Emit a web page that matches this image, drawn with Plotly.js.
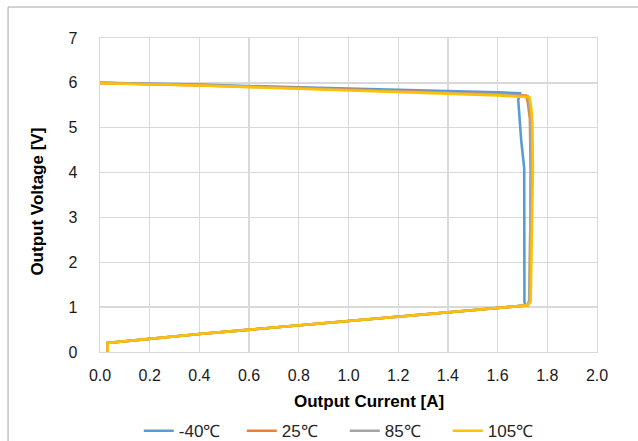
<!DOCTYPE html>
<html>
<head>
<meta charset="utf-8">
<script src="https://cdn.plot.ly/plotly-3.0.1.min.js"></script>
<style>
html,body{margin:0;padding:0;background:#fff;}
#chart{width:638px;height:441px;}
</style>
</head>
<body>
<div id="chart"></div>
<script>
// Series names
const seriesNames = ["-40℃", "25℃", "85℃", "105℃"];
const seriesColors = ["#5b9bd5", "#ed7d31", "#a5a5a5", "#ffc000"];

// -40 ℃
const curM40 = [0.00, 0.40, 0.80, 1.20, 1.60, 1.690, 1.683, 1.695, 1.707, 1.708, 1.712, 1.60, 1.20, 0.80, 0.40, 0.031, 0.031];
const volM40 = [6.00, 5.96, 5.90, 5.85, 5.79, 5.77, 5.62, 4.72, 4.10, 1.12, 1.04, 0.98, 0.79, 0.59, 0.40, 0.20, 0.00];

// 25 ℃
const cur25 = [0.00, 0.40, 0.80, 1.20, 1.60, 1.715, 1.722, 1.730, 1.733, 1.730, 1.722, 1.60, 1.20, 0.80, 0.40, 0.031, 0.031];
const vol25 = [6.00, 5.95, 5.89, 5.82, 5.75, 5.72, 5.55, 5.20, 4.00, 1.12, 1.04, 0.98, 0.79, 0.59, 0.40, 0.20, 0.00];

// 85 ℃
const cur85 = [0.00, 0.40, 0.80, 1.20, 1.60, 1.722, 1.728, 1.733, 1.735, 1.727, 1.720, 1.60, 1.20, 0.80, 0.40, 0.031, 0.031];
const vol85 = [6.00, 5.95, 5.88, 5.81, 5.74, 5.70, 5.50, 5.10, 4.00, 1.15, 1.04, 0.98, 0.79, 0.59, 0.40, 0.20, 0.00];

// 105 ℃
const cur105 = [0.00, 0.40, 0.80, 1.20, 1.60, 1.728, 1.735, 1.740, 1.742, 1.733, 1.722, 1.60, 1.20, 0.80, 0.40, 0.031, 0.031];
const vol105 = [5.99, 5.94, 5.87, 5.80, 5.72, 5.68, 5.45, 5.10, 4.00, 1.12, 1.04, 0.98, 0.79, 0.59, 0.40, 0.20, 0.00];

const xTickVals = [0, 0.2, 0.4, 0.6, 0.8, 1.0, 1.2, 1.4, 1.6, 1.8, 2.0];
const xTickText = ["0.0", "0.2", "0.4", "0.6", "0.8", "1.0", "1.2", "1.4", "1.6", "1.8", "2.0"];
const yTickVals = [0, 1, 2, 3, 4, 5, 6, 7];
const xTitle = "Output Current [A]";
const yTitle = "Output Voltage [V]";

const xs = [curM40, cur25, cur85, cur105];
const ys = [volM40, vol25, vol85, vol105];

const traces = seriesNames.map((n, i) => ({
  x: xs[i], y: ys[i], name: n, type: "scatter", mode: "lines",
  line: {color: seriesColors[i], width: 2.6}
}));

const fontFam = "Liberation Sans, Arial, sans-serif";
const layout = {
  width: 638, height: 441,
  margin: {l: 100, r: 41, t: 38, b: 89, autoexpand: false},
  paper_bgcolor: "#fff", plot_bgcolor: "#fff",
  font: {family: fontFam, size: 15, color: "#404040"},
  showlegend: true,
  legend: {
    orientation: "h", x: 0.078, xanchor: "left", y: -0.252, yanchor: "middle",
    font: {family: fontFam, size: 17, color: "#262626"},
    entrywidth: 58, entrywidthmode: "pixels", traceorder: "normal"
  },
  xaxis: {
    range: [0, 2.0], tickvals: xTickVals, ticktext: xTickText,
    showgrid: true, gridcolor: "#d9d9d9", gridwidth: 1.3,
    showline: true, linecolor: "#d9d9d9", linewidth: 1.3, mirror: true,
    zeroline: false, ticks: "", ticklabelstandoff: 8,
    tickfont: {family: fontFam, size: 16, color: "#1a1a1a"}
  },
  yaxis: {
    range: [0, 7], tickvals: yTickVals,
    showgrid: true, gridcolor: "#d9d9d9", gridwidth: 1.3,
    showline: true, linecolor: "#d9d9d9", linewidth: 1.3, mirror: true,
    zeroline: false, ticks: "", ticklabelstandoff: 18,
    tickfont: {family: fontFam, size: 16, color: "#1a1a1a"}
  },
  annotations: [
    {text: "<b>" + xTitle + "</b>", xref: "paper", yref: "paper", x: 0.541, y: -0.158,
     xanchor: "center", yanchor: "middle", showarrow: false,
     font: {family: fontFam, size: 17, color: "#000"}},
    {text: "<b>" + yTitle + "</b>", xref: "paper", yref: "paper", x: -0.1247, y: 0.479,
     xanchor: "center", yanchor: "middle", showarrow: false, textangle: -90,
     font: {family: fontFam, size: 17, color: "#000"}}
  ],
  shapes: [
    {type: "line", xref: "paper", yref: "paper", x0: -0.185, x1: 1.1, y0: 1.0987, y1: 1.0987, line: {color: "#a6a6a6", width: 1}},
    {type: "line", xref: "paper", yref: "paper", x0: -0.185, x1: -0.185, y0: 1.0987, y1: -0.3, line: {color: "#a6a6a6", width: 1}}
  ]
};

Plotly.newPlot("chart", traces, layout, {displayModeBar: false, staticPlot: true});
</script>
</body>
</html>
